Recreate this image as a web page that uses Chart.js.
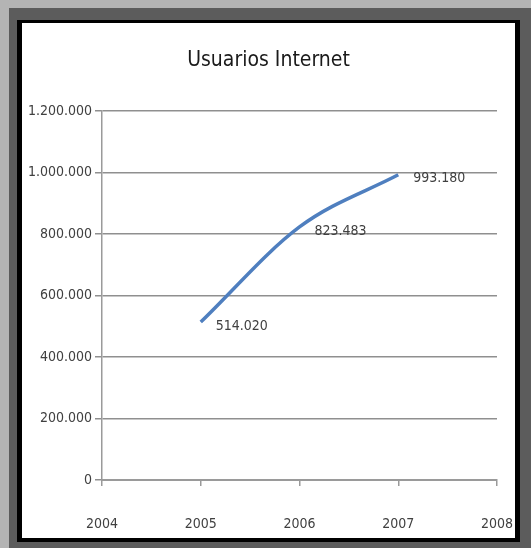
<!DOCTYPE html>
<html>
<head>
<meta charset="utf-8">
<script src="https://cdn.jsdelivr.net/npm/chart.js@4/dist/chart.umd.min.js"></script>
<style>
  html, body { margin: 0; padding: 0; background: #b4b4b4; }
  #outer { position: absolute; left: 9px; top: 8px; width: 522px; height: 540px; background: #5c5c5c; }
  #inner { position: absolute; left: 17px; top: 20px; width: 503px; height: 522px; background: #000; }
  #white { position: absolute; left: 22px; top: 23px; width: 493px; height: 515px; background: #fff; }
  canvas { display: block; }
</style>
</head>
<body>
<div id="outer"></div>
<div id="inner"></div>
<div id="white"><canvas id="c" width="493" height="515"></canvas></div>
<script>
const chartTitle = 'Usuarios Internet';
const years = ['2004', '2005', '2006', '2007', '2008'];
const users = [null, 514020, 823483, 993180, null];
const yTicks = [0, 200000, 400000, 600000, 800000, 1000000, 1200000];

const FONT = '"Liberation Sans Narrow", "DejaVu Sans Condensed", "Liberation Sans", sans-serif';
const fmt = v => String(v).replace(/\B(?=(\d{3})+(?!\d))/g, '.');

const labelPlugin = {
  id: 'pointLabels',
  afterDatasetsDraw(chart) {
    const ctx = chart.ctx;
    const meta = chart.getDatasetMeta(0);
    ctx.save();
    ctx.font = '14px ' + FONT;
    ctx.fillStyle = '#404040';
    ctx.textAlign = 'left';
    ctx.textBaseline = 'middle';
    meta.data.forEach((pt, i) => {
      const v = users[i];
      if (v === null) return;
      ctx.fillText(fmt(v), pt.x + 15, pt.y + 4);
    });
    ctx.restore();
  }
};

new Chart(document.getElementById('c'), {
  type: 'line',
  data: {
    labels: years,
    datasets: [{
      data: users,
      borderColor: '#4f7fbf',
      borderWidth: 3.5,
      pointRadius: 0,
      cubicInterpolationMode: 'monotone',
      spanGaps: false,
      fill: false
    }]
  },
  options: {
    responsive: false,
    animation: false,
    devicePixelRatio: 1,
    layout: { padding: { left: 0, right: 0, top: 0, bottom: 0 } },
    plugins: {
      legend: { display: false },
      tooltip: { enabled: false },
      title: {
        display: true,
        text: chartTitle,
        color: '#1a1a1a',
        font: { family: FONT, size: 21, weight: 'normal' },
        padding: { top: 25, bottom: 38 }
      }
    },
    scales: {
      x: {
        type: 'category',
        offset: false,
        grid: { display: true, drawOnChartArea: false, drawTicks: true, tickLength: 6, color: '#9a9a9a', lineWidth: 1.5 },
        border: { display: true, color: '#9a9a9a', width: 2 },
        ticks: { color: '#404040', font: { family: FONT, size: 14 }, padding: 30, maxRotation: 0, autoSkip: false },
        afterFit(s) { s.height = 58; s.paddingRight = 18; s.paddingLeft = 0; }
      },
      y: {
        min: 0, max: 1200000,
        afterBuildTicks(s) { s.ticks = yTicks.map(v => ({ value: v })); },
        grid: { color: '#8f8f8f', lineWidth: 1.5, tickLength: 7 },
        border: { display: true, color: '#9a9a9a', width: 1.5 },
        ticks: { color: '#404040', font: { family: FONT, size: 14 }, padding: 3, callback: v => fmt(v) },
        afterFit(s) { s.width = 80; }
      }
    }
  },
  plugins: [labelPlugin]
});
</script>
</body>
</html>
